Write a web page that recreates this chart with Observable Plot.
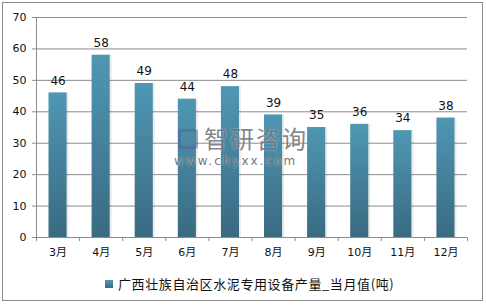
<!DOCTYPE html>
<html>
<head>
<meta charset="utf-8">
<script src="https://cdn.jsdelivr.net/npm/d3@7"></script>
<script src="https://cdn.jsdelivr.net/npm/@observablehq/plot@0.6"></script>
<style>
  html, body { margin: 0; padding: 0; background: #fff; }
  #wrap { position: relative; width: 486px; height: 307px; overflow: hidden; font-family: "DejaVu Sans", "Noto Sans CJK SC", sans-serif; }
  #frame { position: absolute; left: 2px; top: 2px; width: 481px; height: 299px; box-sizing: border-box; border: 1px solid #8c8c8c; }
  #chart { position: absolute; left: 0; top: 0; }
  #legend { position: absolute; left: 105px; top: 274px; display: flex; align-items: center; font-family: "Noto Sans CJK SC", sans-serif; font-size: 13px; color: #111; letter-spacing: 0.6px; white-space: nowrap; }
  #legend .sw { width: 8px; height: 8px; background: linear-gradient(#4f97b3, #3a6a82); margin-right: 5px; }
  #wm { position: absolute; left: 174px; top: 124px; color: rgba(95,102,110,0.8); pointer-events: none; }
  #wm .cn { position: absolute; left: 30px; top: 0; font-family: "Noto Sans CJK SC", sans-serif; font-size: 24px; line-height: 28px; letter-spacing: 2px; white-space: nowrap; text-shadow: 0 0 2px rgba(255,255,255,0.6); }
  #wm .url { position: absolute; left: 0; top: 30px; font-family: "DejaVu Sans", sans-serif; font-size: 12px; line-height: 14px; letter-spacing: 2px; white-space: nowrap; color: rgba(85,92,100,0.85); text-shadow: 0 0 2px rgba(255,255,255,0.8); }
  #wm .logo { position: absolute; left: 4px; top: 5px; width: 20px; height: 20px; border: 3px solid rgba(80,100,160,0.55); border-radius: 3px; box-sizing: border-box; }
</style>
</head>
<body>
<div id="wrap">
  <div id="frame"></div>
  <div id="chart"></div>
  <div id="wm"><div class="logo"></div><div class="cn">智研咨询</div><div class="url">www.chyxx.com</div></div>
  <div id="legend"><div class="sw"></div><span id="legendText"></span></div>
</div>
<script>
const months = ["3月","4月","5月","6月","7月","8月","9月","10月","11月","12月"];
const values = [46, 58, 49, 44, 48, 39, 35, 36, 34, 38];
const yTicks = [0, 10, 20, 30, 40, 50, 60, 70];
const seriesName = "广西壮族自治区水泥专用设备产量_当月值(吨)";

const rows = months.map((m, i) => ({month: m, idx: i, value: values[i]}));
const gridColor = "#8c8c8c";

const plot = Plot.plot({
  width: 486,
  height: 262,
  marginTop: 17,
  marginBottom: 25,
  marginLeft: 36,
  marginRight: 19,
  style: {fontFamily: "DejaVu Sans, Noto Sans CJK SC, sans-serif", fontSize: "11px", color: "#111", background: "transparent"},
  x: {domain: [0, months.length], label: null},
  y: {domain: [0, 70], label: null},
  marks: [
    Plot.gridY(yTicks, {stroke: gridColor, strokeOpacity: 1}),
    Plot.rectY(rows, {x1: "idx", x2: d => d.idx + 1, y: "value", insetLeft: 12.5, insetRight: 12.5, dx: 2, fill: "#000", fillOpacity: 0.08}),
    Plot.rectY(rows, {x1: "idx", x2: d => d.idx + 1, y: "value", insetLeft: 12.5, insetRight: 12.5, fill: "url(#barGrad)"}),
    Plot.ruleY([0], {stroke: gridColor}),
    Plot.ruleX([0], {stroke: gridColor}),
    Plot.axisY({ticks: yTicks, tickSize: 4, tickPadding: 6, stroke: gridColor, fontSize: 11, label: null}),
    Plot.axisX({ticks: d3.range(months.length + 1), tickFormat: () => "", tickSize: 4, stroke: gridColor, label: null}),
    Plot.axisX({ticks: months.map((m, i) => i + 0.5), tickFormat: v => months[Math.floor(v)], tickSize: 0, tickPadding: 11, fontSize: 11, label: null}),
    Plot.text(rows, {x: d => d.idx + 0.5, y: "value", text: d => String(d.value), dy: -12, fontSize: 12, fill: "#111"})
  ]
});

d3.select(plot).insert("defs", ":first-child").html(
  '<linearGradient id="barGrad" x1="0" y1="0" x2="0" y2="1">' +
  '<stop offset="0" stop-color="#4f97b3"/>' +
  '<stop offset="1" stop-color="#3a6a82"/>' +
  '</linearGradient>'
);
document.getElementById("chart").appendChild(plot);
document.getElementById("legendText").textContent = seriesName;
</script>
</body>
</html>
